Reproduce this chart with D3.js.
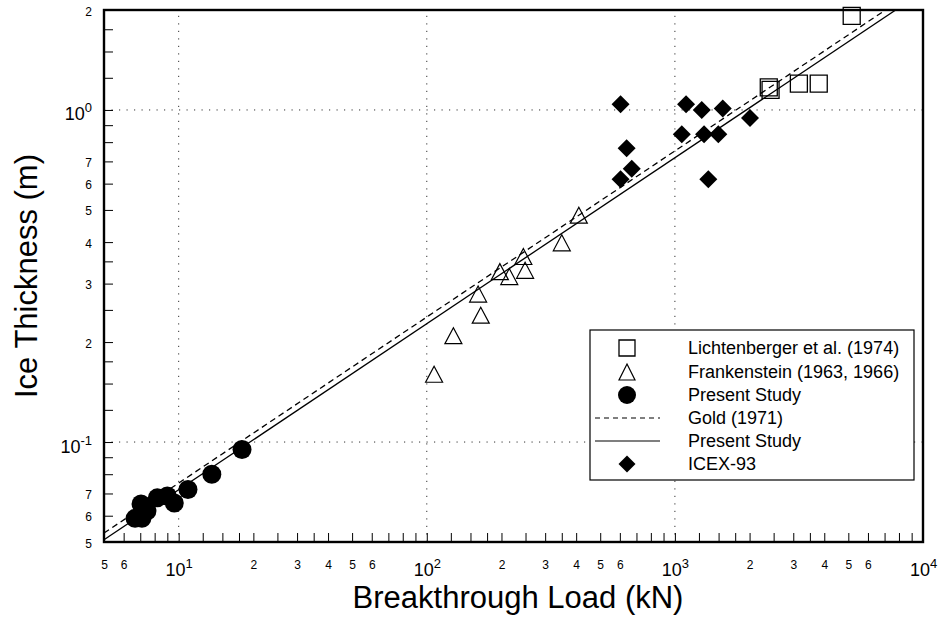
<!DOCTYPE html>
<html>
<head>
<meta charset="utf-8">
<script src="https://cdn.jsdelivr.net/npm/d3@7"></script>
<style>
  body { margin: 0; background: #fff; }
  svg { display: block; font-family: "Liberation Sans", Arial, Helvetica, sans-serif; }
</style>
</head>
<body>
<svg id="chart" width="940" height="629"></svg>
<script>
// Breakthrough load (kN) and ice thickness (m) for each data set
const lichtenbergerLoad  = [5160, 2390, 2430, 3160, 3800];
const lichtenbergerThick = [1.92, 1.17, 1.15, 1.20, 1.20];

const frankensteinLoad  = [410, 350, 245, 249, 197, 215, 161, 165, 128, 107];
const frankensteinThick = [0.482, 0.398, 0.362, 0.329, 0.326, 0.315, 0.279, 0.241, 0.209, 0.160];

const presentLoad  = [18.0, 13.6, 10.9, 9.6, 9.0, 8.2, 7.05, 6.67, 7.11, 7.45];
const presentThick = [0.095, 0.080, 0.072, 0.0655, 0.0688, 0.0679, 0.0651, 0.0589, 0.0589, 0.062];

const icexLoad  = [604, 1109, 1283, 1559, 2008, 1066, 1311, 1496, 639, 670, 604, 1364];
const icexThick = [1.04, 1.04, 1.00, 1.01, 0.945, 0.845, 0.845, 0.845, 0.767, 0.665, 0.619, 0.619];

// Fitted lines, as end points [load, thickness]
const goldLine    = [[5, 0.0532], [7060, 2]];
const presentLine = [[5, 0.0508], [7760, 2]];

// Axis ticks and labels
const xTicks = [5, 6, 7, 8, 9, 10, 12.5, 15, 17.5, 20, 25, 30, 35, 40, 50, 60, 70, 80, 90,
                100, 125, 150, 175, 200, 250, 300, 350, 400, 500, 600, 700, 800, 900,
                1000, 1250, 1500, 1750, 2000, 2500, 3000, 3500, 4000, 5000, 6000, 7000, 8000, 9000, 10000];
const xLabelValues = [5, 6, 10, 20, 30, 40, 50, 60, 100, 200, 300, 400, 500, 600,
                      1000, 2000, 3000, 4000, 5000, 6000, 10000];
const yTicks = [0.05, 0.06, 0.07, 0.08, 0.09, 0.1, 0.125, 0.15, 0.175, 0.2, 0.25, 0.3, 0.35, 0.4,
                0.5, 0.6, 0.7, 0.8, 0.9, 1, 1.25, 1.5, 1.75, 2];
const yLabelValues = [0.05, 0.06, 0.07, 0.1, 0.2, 0.3, 0.4, 0.5, 0.6, 0.7, 1, 2];

const legendEntries = [
  { label: "Lichtenberger et al. (1974)", kind: "square" },
  { label: "Frankenstein (1963, 1966)",   kind: "triangle" },
  { label: "Present Study",               kind: "circle" },
  { label: "Gold (1971)",                 kind: "dashed" },
  { label: "Present Study",               kind: "solid" },
  { label: "ICEX-93",                     kind: "diamond" }
];

const svg = d3.select("#chart");
const L = 104, R = 923, T = 10, B = 542;

const x = d3.scaleLog().domain([5, 1e4]).range([L, R]);
const y = d3.scaleLog().domain([0.05, 2]).range([B, T]);

const isDecade = v => Math.abs(Math.log10(v) - Math.round(Math.log10(v))) < 1e-9;
const leadDigit = v => String(Math.round(v / Math.pow(10, Math.floor(Math.log10(v) + 1e-9))));

// Dotted grid at the decades
const grid = svg.append("g").attr("stroke", "#333").attr("stroke-width", 1)
  .attr("stroke-dasharray", "1.2,6.3");
grid.selectAll("line.gx").data([10, 100, 1000]).join("line")
  .attr("x1", d => x(d)).attr("x2", d => x(d)).attr("y1", B).attr("y2", T);
grid.selectAll("line.gy").data([0.1, 1]).join("line")
  .attr("y1", d => y(d)).attr("y2", d => y(d)).attr("x1", L).attr("x2", R);

// Axes: inward ticks, labels placed below / left
function decadeLabel(text, v, supSize, dy) {
  const e = Math.round(Math.log10(v));
  text.text(null);
  text.append("tspan").text("10");
  text.append("tspan").attr("font-size", supSize).attr("dy", dy).text(e < 0 ? "-" + (-e) : e);
}

const gx = svg.append("g").attr("transform", `translate(0,${B})`)
  .call(d3.axisBottom(x).tickValues(xTicks).tickSize(-9).tickPadding(0)
    .tickFormat(d => xLabelValues.some(v => Math.abs(v - d) < 1e-9) ? (isDecade(d) ? "10" : leadDigit(d)) : ""));
gx.select(".domain").remove();
gx.selectAll(".tick line").attr("stroke", "#000");
gx.selectAll(".tick text").attr("fill", "#000").attr("dy", null)
  .each(function (d) {
    const t = d3.select(this);
    if (isDecade(d)) {
      t.attr("y", 34).attr("font-size", 18);
      decadeLabel(t, d, 13, -8);
    } else {
      t.attr("y", 27).attr("font-size", 12);
    }
  });

const gy = svg.append("g").attr("transform", `translate(${L},0)`)
  .call(d3.axisLeft(y).tickValues(yTicks).tickSize(-9).tickPadding(0)
    .tickFormat(d => yLabelValues.some(v => Math.abs(v - d) < 1e-9) ? (isDecade(d) ? "10" : leadDigit(d)) : ""));
gy.select(".domain").remove();
gy.selectAll(".tick line").attr("stroke", "#000");
gy.selectAll(".tick text").attr("fill", "#000").attr("dy", null).attr("x", -12)
  .each(function (d) {
    const t = d3.select(this);
    if (isDecade(d)) {
      t.attr("y", 10).attr("font-size", 18);
      decadeLabel(t, d, 13, -8);
    } else {
      t.attr("y", 5).attr("font-size", 12);
    }
  });

// Frame
svg.append("rect").attr("x", L).attr("y", T).attr("width", R - L).attr("height", B - T)
  .attr("fill", "none").attr("stroke", "#000").attr("stroke-width", 2.4);

// Fitted lines
svg.append("clipPath").attr("id", "plot").append("rect")
  .attr("x", L).attr("y", T).attr("width", R - L).attr("height", B - T);
const lineGen = d3.line().x(d => x(d[0])).y(d => y(d[1]));
svg.append("path").attr("clip-path", "url(#plot)").attr("d", lineGen(goldLine))
  .attr("fill", "none").attr("stroke", "#000").attr("stroke-width", 1.3).attr("stroke-dasharray", "6,4");
svg.append("path").attr("clip-path", "url(#plot)").attr("d", lineGen(presentLine))
  .attr("fill", "none").attr("stroke", "#000").attr("stroke-width", 1.3);

// Marker shapes
const sq = s => `M${-s/2},${-s/2}h${s}v${s}h${-s}Z`;
const tri = (w, h) => `M0,${-h/2}L${w/2},${h/2}L${-w/2},${h/2}Z`;
const dia = r => `M0,${-r}L${r},0L0,${r}L${-r},0Z`;

const pts = (xs, ys) => xs.map((v, i) => [v, ys[i]]);

svg.append("g").selectAll("path").data(pts(frankensteinLoad, frankensteinThick)).join("path")
  .attr("transform", d => `translate(${x(d[0])},${y(d[1])})`)
  .attr("d", tri(17, 16)).attr("fill", "none").attr("stroke", "#000").attr("stroke-width", 1.2);

svg.append("g").selectAll("path").data(pts(lichtenbergerLoad, lichtenbergerThick)).join("path")
  .attr("transform", d => `translate(${x(d[0])},${y(d[1])})`)
  .attr("d", sq(17)).attr("fill", "none").attr("stroke", "#000").attr("stroke-width", 1.3);

svg.append("g").selectAll("circle").data(pts(presentLoad, presentThick)).join("circle")
  .attr("cx", d => x(d[0])).attr("cy", d => y(d[1])).attr("r", 9.5).attr("fill", "#000");

svg.append("g").selectAll("path").data(pts(icexLoad, icexThick)).join("path")
  .attr("transform", d => `translate(${x(d[0])},${y(d[1])})`)
  .attr("d", dia(9)).attr("fill", "#000");

// Legend
const lg = svg.append("g");
lg.append("rect").attr("x", 590).attr("y", 330).attr("width", 324).attr("height", 150)
  .attr("fill", "#fff").attr("stroke", "#000").attr("stroke-width", 1.2);
const rowY = [348, 372, 395, 418, 441, 464];
const item = lg.selectAll("g.item").data(legendEntries).join("g")
  .attr("transform", (d, i) => `translate(0,${rowY[i]})`);
item.each(function (d) {
  const g = d3.select(this);
  const cx = 627;
  if (d.kind === "square") g.append("path").attr("transform", `translate(${cx},0)`).attr("d", sq(16)).attr("fill", "none").attr("stroke", "#000").attr("stroke-width", 1.3);
  if (d.kind === "triangle") g.append("path").attr("transform", `translate(${cx},0)`).attr("d", tri(16, 16)).attr("fill", "none").attr("stroke", "#000").attr("stroke-width", 1.2);
  if (d.kind === "circle") g.append("circle").attr("cx", cx).attr("cy", 0).attr("r", 9).attr("fill", "#000");
  if (d.kind === "diamond") g.append("path").attr("transform", `translate(${cx},0)`).attr("d", dia(8.5)).attr("fill", "#000");
  if (d.kind === "dashed") g.append("line").attr("x1", 595).attr("x2", 660).attr("stroke", "#000").attr("stroke-width", 1.2).attr("stroke-dasharray", "5,4");
  if (d.kind === "solid") g.append("line").attr("x1", 595).attr("x2", 660).attr("stroke", "#000").attr("stroke-width", 1.2);
  g.append("text").attr("x", 688).attr("dy", "0.36em").attr("font-size", 18).attr("fill", "#000").text(d.label);
});

// Axis titles
svg.append("text").attr("x", 518).attr("y", 608).attr("text-anchor", "middle")
  .attr("font-size", 31).attr("fill", "#000").text("Breakthrough Load (kN)");
svg.append("text").attr("transform", "translate(37,276) rotate(-90)").attr("text-anchor", "middle")
  .attr("font-size", 31).attr("fill", "#000").text("Ice Thickness (m)");
</script>
</body>
</html>
